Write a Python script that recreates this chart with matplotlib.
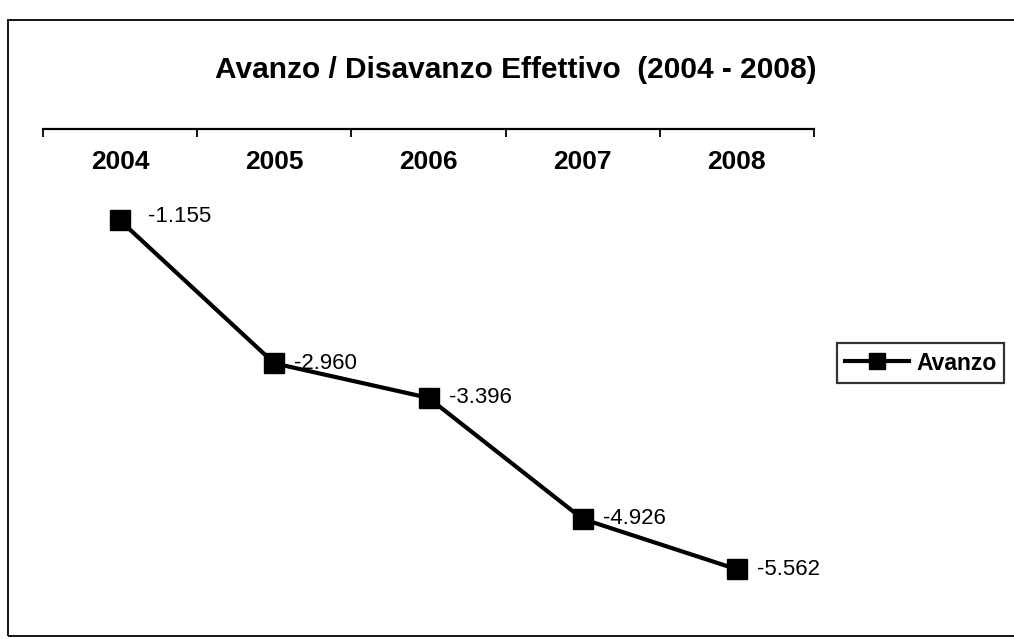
import matplotlib
matplotlib.use("Agg")
import matplotlib.pyplot as plt
from matplotlib.patches import Rectangle

plt.rcParams["font.family"] = ["Liberation Sans", "DejaVu Sans"]

years = ["2004", "2005", "2006", "2007", "2008"]
avanzo = [-1155, -2960, -3396, -4926, -5562]
value_labels = ["-1.155", "-2.960", "-3.396", "-4.926", "-5.562"]
title = "Avanzo / Disavanzo Effettivo  (2004 - 2008)"

W, H = 1014, 639
fig = plt.figure(figsize=(W / 100, H / 100), dpi=100)
fig.patch.set_facecolor("white")

# outer chart border (right edge runs off the scan)
fig.patches.append(Rectangle((8 / W, 3 / H), 1.2, 1 - 3 / H - 20 / H,
                             transform=fig.transFigure, fill=False,
                             edgecolor="black", linewidth=1.3))

ax = fig.add_axes([43 / W, 1 - 604 / H, 771 / W, 475 / H])
x = list(range(len(years)))
ax.plot(x, avanzo, color="black", linewidth=3, marker="s", markersize=14,
        markerfacecolor="black", markeredgecolor="black", label="Avanzo")
ax.set_xlim(-0.5, len(years) - 0.5)
ax.set_ylim(-6000, 0)

for s in ["left", "right", "bottom"]:
    ax.spines[s].set_visible(False)
ax.spines["top"].set_linewidth(1.6)
ax.set_yticks([])
ax.xaxis.tick_top()
ax.set_xticks([i - 0.5 for i in range(len(years) + 1)])
ax.set_xticklabels([])
ax.tick_params(axis="x", direction="in", length=6, width=1.3, top=True, bottom=False)

for i, yr in enumerate(years):
    ax.annotate(yr, xy=(i, 1), xycoords=("data", "axes fraction"),
                xytext=(0, -24), textcoords="offset points",
                ha="center", va="center", fontsize=19, fontweight="bold")

for i, (v, lab) in enumerate(zip(avanzo, value_labels)):
    dx, dy = (20, 3) if i == 0 else (14.5, 0)
    ax.annotate(lab, xy=(i, v), xytext=(dx, dy), textcoords="offset points",
                ha="left", va="center", fontsize=16)

fig.text(516 / W, 1 - 70 / H, title, ha="center", va="center",
         fontsize=21.5, fontweight="bold")

leg = fig.legend(loc="center left", bbox_to_anchor=(837 / W, 1 - 363 / H),
                 frameon=True, fancybox=False, handlelength=2.8,
                 borderaxespad=0, borderpad=0.35, handletextpad=0.3,
                 markerscale=0.85, prop={"weight": "bold", "size": 16.5})
leg.get_frame().set_edgecolor("black")
leg.get_frame().set_linewidth(1.6)

fig.savefig("out.png", dpi=100)
